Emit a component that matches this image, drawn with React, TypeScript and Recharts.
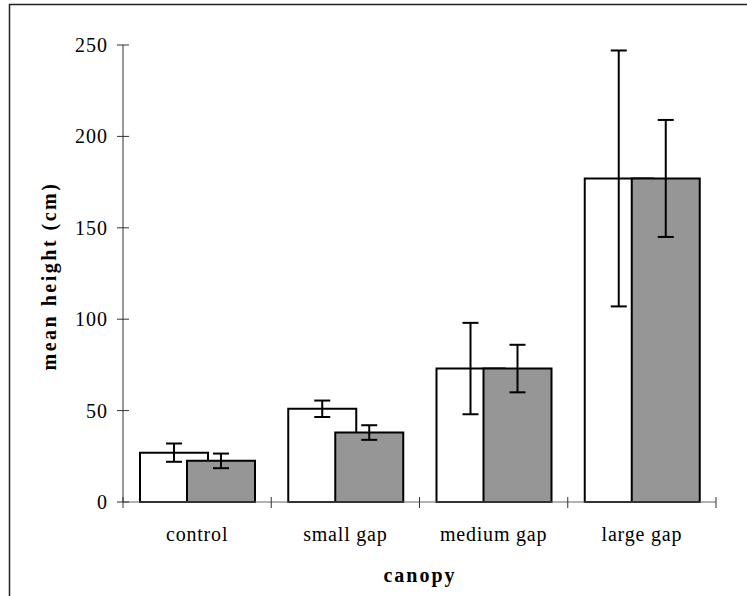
import React from 'react';
import { BarChart, Bar, XAxis, YAxis, ErrorBar } from 'recharts';

const categories = ['control', 'small gap', 'medium gap', 'large gap'];
const openMeans = [27, 51, 73, 177];
const openErr = [5, 4.5, 25, 70];
const shadedMeans = [22.5, 38, 73, 177];
const shadedErr = [4, 4, 13, 32];
const yTicks = [0, 50, 100, 150, 200, 250];

const data = categories.map((name, i) => ({
  name,
  open: openMeans[i],
  openErr: openErr[i],
  shaded: shadedMeans[i],
  shadedErr: shadedErr[i],
}));

const W = 747;
const H = 596;
const margin = { top: 45, right: 31, bottom: 64, left: 10 };
const yAxisWidth = 113;
const plotWidth = W - margin.left - margin.right - yAxisWidth;
const band = plotWidth / categories.length;
const FONT = '"Liberation Serif", "Times New Roman", serif';

const YTick = (props: any) => {
  const { x, y, payload } = props;
  return (
    <g>
      <line x1={x - 6} x2={x + 6} y1={y} y2={y} stroke="#333" strokeWidth={1} />
      <text x={x - 15} y={y} dy={7} textAnchor="end" fontFamily={FONT} fontSize={20} fill="#000" letterSpacing={1}>
        {payload.value}
      </text>
    </g>
  );
};

const XTick = (props: any) => {
  const { x, y, payload, index } = props;
  const last = index === categories.length - 1;
  return (
    <g>
      <line x1={x - band / 2} x2={x - band / 2} y1={y - 5} y2={y + 6} stroke="#333" strokeWidth={1} />
      {last && <line x1={x + band / 2} x2={x + band / 2} y1={y - 5} y2={y + 6} stroke="#333" strokeWidth={1} />}
      <text x={x} y={y + 39} textAnchor="middle" fontFamily={FONT} fontSize={20} fill="#000" letterSpacing={0.8}>
        {payload.value}
      </text>
    </g>
  );
};

export default function App() {
  return (
    <div style={{ position: 'absolute', left: 0, top: 0, width: W, height: H, background: '#fff' }}>
      <BarChart width={W} height={H} data={data} margin={margin} barSize={68} barGap={-21}>
        <XAxis
          dataKey="name"
          height={30}
          tickSize={0}
          tickMargin={0}
          tickLine={false}
          axisLine={{ stroke: '#666', strokeWidth: 1 }}
          tick={<XTick />}
          interval={0}
        />
        <YAxis
          width={yAxisWidth}
          domain={[0, 250]}
          ticks={yTicks}
          tickSize={0}
          tickMargin={0}
          tickLine={false}
          axisLine={{ stroke: '#333', strokeWidth: 1 }}
          tick={<YTick />}
          interval={0}
        />
        <Bar dataKey="open" fill="#ffffff" stroke="#000" strokeWidth={2} isAnimationActive={false}>
          <ErrorBar dataKey="openErr" width={8} stroke="#000" strokeWidth={2} direction="y" isAnimationActive={false} />
        </Bar>
        <Bar dataKey="shaded" fill="#969696" stroke="#000" strokeWidth={2} isAnimationActive={false}>
          <ErrorBar dataKey="shadedErr" width={8} stroke="#000" strokeWidth={2} direction="y" isAnimationActive={false} />
        </Bar>
      </BarChart>
      <svg width={W} height={H} style={{ position: 'absolute', left: 0, top: 0, pointerEvents: 'none' }}>
        <polyline points={`9.5,${H} 9.5,4.5 ${W},4.5`} fill="none" stroke="#222" strokeWidth={1.5} />
        <text
          x={0}
          y={0}
          transform="translate(56 276) rotate(-90)"
          textAnchor="middle"
          fontFamily={FONT}
          fontSize={20}
          fontWeight="bold"
          letterSpacing={2.5}
          fill="#000"
        >
          mean height (cm)
        </text>
        <text x={420} y={582} textAnchor="middle" fontFamily={FONT} fontSize={20} fontWeight="bold" letterSpacing={2} fill="#000">
          canopy
        </text>
      </svg>
    </div>
  );
}
